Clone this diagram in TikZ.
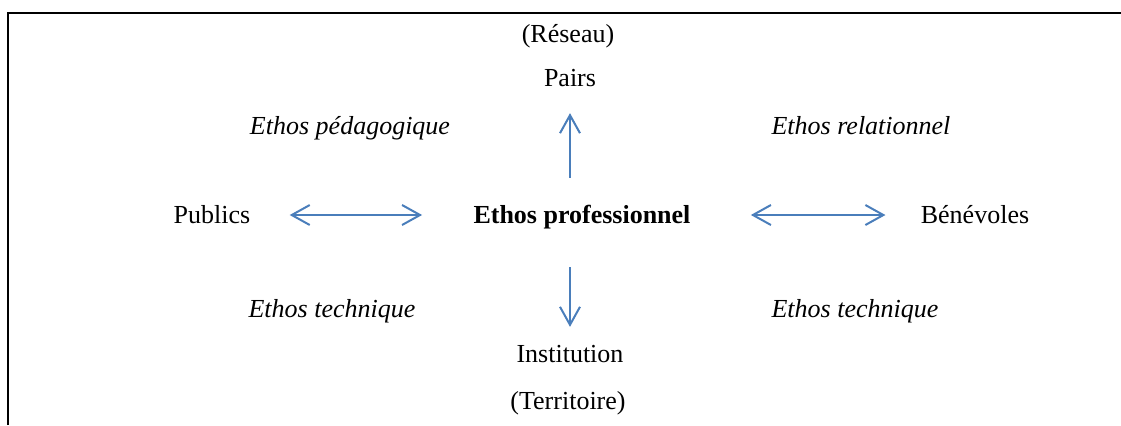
\documentclass[tikz,border=0pt]{standalone}
\usepackage{fontspec}
\setmainfont{Liberation Serif}
\usepackage{tikz}
\usetikzlibrary{arrows.meta}
\definecolor{bleu1}{HTML}{4A7EBB}

\begin{document}
\begin{tikzpicture}[x=0.5pt, y=-0.5pt]
\tikzstyle{mot} = [inner sep=0pt, font=\fontsize{13}{15}\selectfont];
\tikzstyle{ethos} = [mot, font=\fontsize{13}{15}\selectfont\itshape];
\tikzstyle{lien} = [color=bleu1, line width=1pt, {Straight Barb[length=9pt, width=10pt]}-{Straight Barb[length=9pt, width=10pt]}];
\tikzstyle{lien1} = [color=bleu1, line width=1pt, -{Straight Barb[length=9pt, width=10pt]}];

\useasboundingbox (0,0) rectangle (1121,425);
\draw [line width = 1pt] (7.5,425) -- (7.5,13) -- (1121,13);

\node [mot] (reseau) at (568,36) {(Réseau)};
\node [mot] (pairs) at (570,78) {Pairs};
\node [ethos] (pedago) at (350,128) {Ethos pédagogique};
\node [ethos] (relation) at (861,126) {Ethos relationnel};

\node [mot] (publics) at (212,215) {Publics};
\node [mot, font=\fontsize{13}{15}\selectfont\bfseries] (centre) at (582,217) {Ethos professionnel};
\node [mot] (benevoles) at (975,215) {Bénévoles};

\node [ethos] (techg) at (332,311) {Ethos technique};
\node [ethos] (techd) at (855,311) {Ethos technique};
\node [mot] (institution) at (570,354) {Institution};
\node [mot] (territoire) at (568,403) {(Territoire)};

\draw [lien, shorten <=19.5pt, shorten >=25.5pt] (publics.east) -- (publics.east -| centre.west);
\draw [lien, shorten <=30pt, shorten >=17.5pt] (benevoles.west -| centre.east) -- (benevoles.west);
\draw [lien1, shorten <=13.5pt, shorten >=13pt] (centre.north -| pairs) -- (pairs.south);
\draw [lien1, shorten <=19pt, shorten >=9pt] (centre.south -| institution) -- (institution.north);
\end{tikzpicture}
\end{document}
